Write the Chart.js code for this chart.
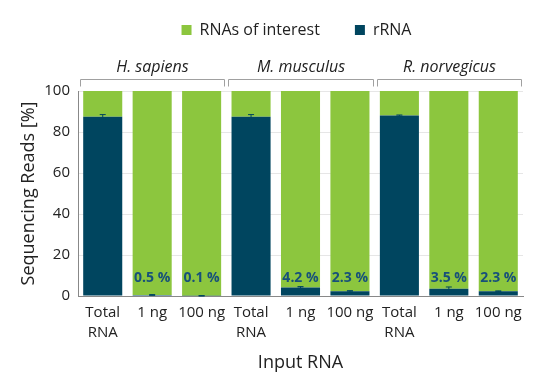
<!DOCTYPE html>
<html><head><meta charset="utf-8">
<script src="https://cdn.jsdelivr.net/npm/chart.js@4.4.1/dist/chart.umd.min.js"></script>
<style>html,body{margin:0;padding:0;background:#fff;overflow:hidden}</style>
</head><body>
<canvas id="c" width="543" height="378"></canvas>
<script>
const categories = [["Total","RNA"], "1 ng", "100 ng", ["Total","RNA"], "1 ng", "100 ng", ["Total","RNA"], "1 ng", "100 ng"];
const groups = ["H. sapiens", "M. musculus", "R. norvegicus"];
const rrna = [87.5, 0.5, 0.1, 87.5, 4.2, 2.3, 88.0, 3.5, 2.3];
const rrnaErr = [1.0, 0.2, 0.1, 1.0, 0.4, 0.3, 0.3, 0.9, 0.2];
const rnasOfInterest = [12.5, 99.5, 99.9, 12.5, 95.8, 97.7, 12.0, 96.5, 97.7];
const pctLabels = ["", "0.5 %", "0.1 %", "", "4.2 %", "2.3 %", "", "3.5 %", "2.3 %"];
const yTicks = [0, 20, 40, 60, 80, 100];

const GREEN = '#8cc63e';
const NAVY = '#00455f';
const FONT = "'Open Sans', sans-serif";

const legendSpace = {
  id: 'legendSpace',
  beforeInit(chart) {
    const lg = chart.legend;
    const orig = lg.fit;
    lg.fit = function () { orig.call(this); this.height = 91; };
  },
  afterLayout(chart) {
    const lg = chart.legend;
    lg.left += 35; lg.right += 35;
    lg.top -= 13; lg.bottom -= 13;
  }
};

const extras = {
  id: 'extras',
  afterDatasetsDraw(chart) {
    const ctx = chart.ctx;
    const x = chart.scales.x, y = chart.scales.y;
    const meta = chart.getDatasetMeta(0);
    ctx.save();
    // error bars
    ctx.strokeStyle = NAVY; ctx.lineWidth = 1;
    meta.data.forEach((bar, i) => {
      const e = rrnaErr[i];
      const yt = y.getPixelForValue(rrna[i] + e), yb = y.getPixelForValue(rrna[i] - e);
      ctx.beginPath();
      ctx.moveTo(bar.x, yt); ctx.lineTo(bar.x, yb);
      ctx.moveTo(bar.x - 3, yt); ctx.lineTo(bar.x + 3, yt);
      ctx.moveTo(bar.x - 3, yb); ctx.lineTo(bar.x + 3, yb);
      ctx.stroke();
    });
    // percentage labels
    ctx.fillStyle = '#17507a';
    ctx.font = "bold 14px " + FONT;
    ctx.textAlign = 'center'; ctx.textBaseline = 'middle';
    meta.data.forEach((bar, i) => {
      if (pctLabels[i]) ctx.fillText(pctLabels[i], bar.x, y.getPixelForValue(0) - 18);
    });
    // group brackets
    const half = (x.getPixelForValue(1) - x.getPixelForValue(0)) / 2;
    ctx.strokeStyle = '#a0a0a0'; ctx.lineWidth = 1;
    ctx.fillStyle = '#222';
    ctx.font = "italic 16px " + FONT;
    groups.forEach((g, gi) => {
      const l = Math.round(x.getPixelForValue(gi * 3) - half + 2) + 0.5;
      const r = Math.round(x.getPixelForValue(gi * 3 + 2) + half - 2) + 0.5;
      const by = 79.5;
      ctx.beginPath();
      ctx.moveTo(l, by + 7); ctx.lineTo(l, by); ctx.lineTo(r, by); ctx.lineTo(r, by + 7);
      ctx.stroke();
      ctx.fillText(g, (l + r) / 2, 67);
    });
    ctx.restore();
  }
};

new Chart(document.getElementById('c'), {
  type: 'bar',
  data: {
    labels: categories,
    datasets: [
      { label: 'rRNA', data: rrna, backgroundColor: NAVY, barPercentage: 0.79, categoryPercentage: 1 },
      { label: 'RNAs of interest', data: rnasOfInterest, backgroundColor: GREEN, barPercentage: 0.79, categoryPercentage: 1 }
    ]
  },
  options: {
    responsive: false,
    devicePixelRatio: 1,
    animation: false,
    layout: { padding: { top: 0, right: 20, left: 0, bottom: 0 } },
    plugins: {
      tooltip: { enabled: false },
      legend: {
        position: 'top',
        reverse: true,
        labels: {
          boxWidth: 10, boxHeight: 10, color: '#222',
          font: { family: FONT, size: 16 },
          padding: 35
        }
      }
    },
    scales: {
      x: {
        stacked: true,
        grid: { display: false },
        border: { color: '#888' },
        ticks: { color: '#222', font: { family: FONT, size: 15, lineHeight: 1.3 }, maxRotation: 0, autoSkip: false, padding: -1 },
        title: { display: true, text: 'Input RNA', color: '#222', font: { family: FONT, size: 18 }, padding: { top: 6 } },
        afterFit(s) { s.height = 82; }
      },
      y: {
        stacked: true, min: 0, max: 100,
        grid: { color: '#e6e6e6', drawTicks: false },
        border: { color: '#888' },
        ticks: {
          stepSize: 10, padding: 8, color: '#222', font: { family: FONT, size: 15 },
          callback: v => yTicks.includes(v) ? String(v) : ''
        },
        title: { display: true, text: 'Sequencing Reads [%]', color: '#222', font: { family: FONT, size: 18 }, padding: { top: 18, bottom: 0 } },
        afterFit(s) { s.width = 78; }
      }
    }
  },
  plugins: [legendSpace, extras]
});
</script>
</body></html>
